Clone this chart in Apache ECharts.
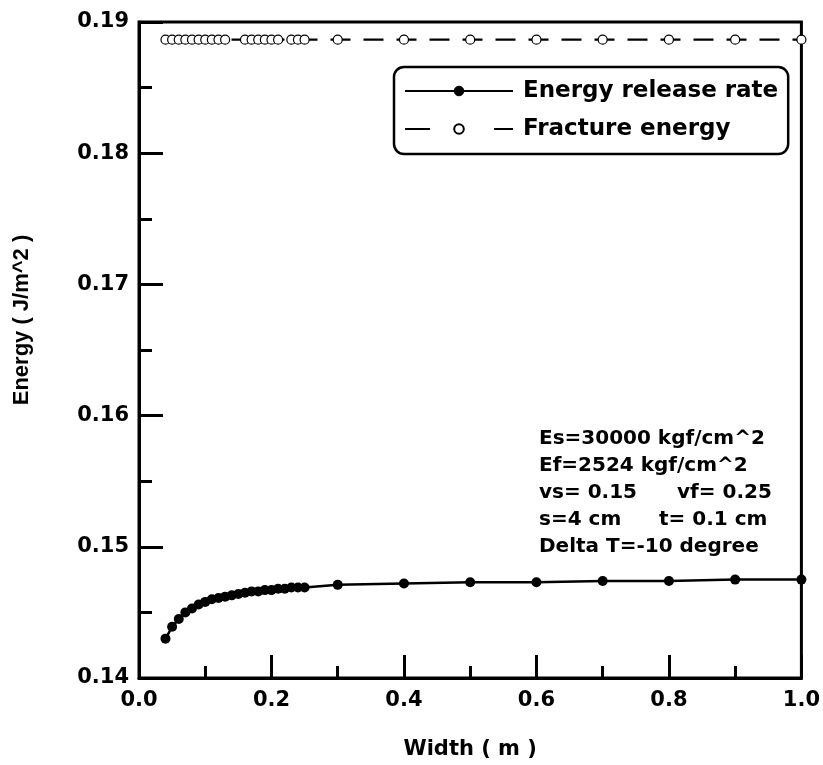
<!DOCTYPE html>
<html>
<head>
<meta charset="utf-8">
<script src="https://cdn.jsdelivr.net/npm/echarts@6/dist/echarts.min.js"></script>
<style>
  html, body { margin: 0; padding: 0; background: #fff; }
  #chart { width: 823px; height: 765px; }
</style>
</head>
<body>
<div id="chart"></div>
<script>
// width (m) and energy release rate (J/m^2)
const widths = [0.04, 0.05, 0.06, 0.07, 0.08, 0.09, 0.10, 0.11, 0.12, 0.13, 0.14, 0.15, 0.16, 0.17,
  0.18, 0.19, 0.20, 0.21, 0.22, 0.23, 0.24, 0.25, 0.3, 0.4, 0.5, 0.6, 0.7, 0.8, 0.9, 1.0];
const releaseRate = [0.1430, 0.1439, 0.1445, 0.1450, 0.1453, 0.1456, 0.1458, 0.1460, 0.1461, 0.1462,
  0.1463, 0.1464, 0.1465, 0.1466, 0.1466, 0.1467, 0.1467, 0.1468, 0.1468, 0.1469, 0.1469, 0.1469,
  0.1471, 0.1472, 0.1473, 0.1473, 0.1474, 0.1474, 0.1475, 0.1475];

// fracture energy (markers shown in the picture)
const fractureWidths = [0.04, 0.05, 0.06, 0.07, 0.08, 0.09, 0.10, 0.11, 0.12, 0.13,
  0.16, 0.17, 0.18, 0.19, 0.20, 0.21, 0.23, 0.24, 0.25,
  0.3, 0.4, 0.5, 0.6, 0.7, 0.8, 0.9, 1.0];
const fractureEnergy = [0.18865, 0.18865, 0.18865, 0.18865, 0.18865, 0.18865, 0.18865, 0.18865, 0.18865, 0.18865,
  0.18865, 0.18865, 0.18865, 0.18865, 0.18865, 0.18865, 0.18865, 0.18865, 0.18865,
  0.18865, 0.18865, 0.18865, 0.18865, 0.18865, 0.18865, 0.18865, 0.18865];

const notes = ['Es=30000 kgf/cm^2', 'Ef=2524 kgf/cm^2', 'vs= 0.15', 's=4 cm', 'Delta T=-10 degree'];
const notes2 = ['', '', 'vf= 0.25', 't= 0.1 cm', ''];

const FONT = 'DejaVu Sans';

const myChart = echarts.init(document.getElementById('chart'));

let graphics = [];
notes.forEach(function (t, i) {
  graphics.push({
    type: 'text', x: 539, y: 439 + i * 27,
    style: { text: t, font: 'bold 20px "DejaVu Sans"', fill: '#000', verticalAlign: 'middle' }
  });
  if (notes2[i]) {
    graphics.push({
      type: 'text', x: i === 2 ? 677 : 659, y: 439 + i * 27,
      style: { text: notes2[i], font: 'bold 20px "DejaVu Sans"', fill: '#000', verticalAlign: 'middle' }
    });
  }
});

const option = {
  animation: false,
  grid: {
    left: 139, right: 21, top: 22, bottom: 78,
    show: true, borderColor: '#000', borderWidth: 3
  },
  legend: {
    orient: 'vertical',
    left: 394, top: 67,
    padding: [12, 10, 13, 10],
    itemWidth: 108, itemHeight: 12, itemGap: 14,
    borderColor: '#000', borderWidth: 2.5, borderRadius: 10,
    textStyle: { fontFamily: FONT, fontWeight: 'bold', fontSize: 23, color: '#000', lineHeight: 24, padding: [0, 0, 0, 5] },
    data: [
      { name: 'Energy release rate', itemStyle: { borderColor: '#000', borderWidth: 1 } },
      { name: 'Fracture energy', lineStyle: { type: [25, 64, 19] } }
    ]
  },
  xAxis: {
    type: 'value', min: 0, max: 1, interval: 0.2,
    name: 'Width ( m )', nameLocation: 'middle', nameGap: 61,
    nameTextStyle: { fontFamily: FONT, fontWeight: 'bold', fontSize: 21, color: '#000' },
    axisLine: { lineStyle: { color: '#000', width: 3 } },
    axisTick: { inside: true, length: 23, lineStyle: { color: '#000', width: 3 } },
    minorTick: { show: true, splitNumber: 2, length: 12, lineStyle: { color: '#000', width: 3 } },
    splitLine: { show: false },
    axisLabel: {
      margin: 12, color: '#000', fontFamily: FONT, fontWeight: 'bold', fontSize: 21,
      formatter: function (v) { return v.toFixed(1); }
    }
  },
  yAxis: {
    type: 'value', min: 0.14, max: 0.19, interval: 0.01,
    name: 'Energy ( J/m^2 )', nameLocation: 'middle', nameGap: 106, nameRotate: 90,
    nameTextStyle: { fontFamily: 'Liberation Sans', fontWeight: 'bold', fontSize: 22, color: '#000', padding: [0, 0, 0, 60] },
    axisLine: { lineStyle: { color: '#000', width: 3 } },
    axisTick: { inside: true, length: 24, lineStyle: { color: '#000', width: 3 } },
    minorTick: { show: true, splitNumber: 2, length: 13, lineStyle: { color: '#000', width: 3 } },
    splitLine: { show: false },
    axisLabel: {
      margin: 10, color: '#000', fontFamily: FONT, fontWeight: 'bold', fontSize: 21,
      formatter: function (v) { return v.toFixed(2); }
    }
  },
  series: [
    {
      name: 'Energy release rate',
      type: 'line',
      data: widths.map(function (w, i) { return [w, releaseRate[i]]; }),
      symbol: 'circle', symbolSize: 10, showAllSymbol: true,
      lineStyle: { color: '#000', width: 2.5 },
      itemStyle: { color: '#000' }
    },
    {
      name: 'Fracture energy',
      type: 'line',
      data: fractureWidths.map(function (w, i) { return [w, fractureEnergy[i]]; }),
      symbol: 'circle', symbolSize: 9, showAllSymbol: true,
      lineStyle: { color: '#000', width: 2.2, type: [20, 13] },
      itemStyle: { color: '#fff', borderColor: '#000', borderWidth: 1.2 }
    }
  ],
  graphic: graphics
};
option && myChart.setOption(option);
</script>
</body>
</html>
